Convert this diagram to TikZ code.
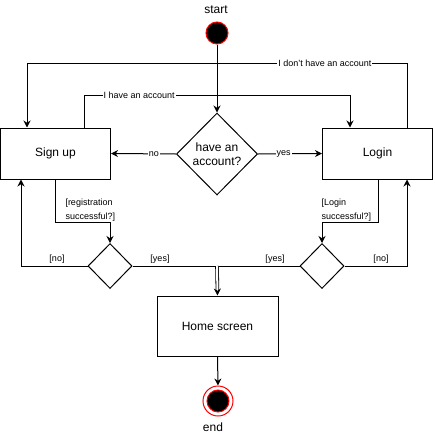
\documentclass[tikz,border=0pt]{standalone}
\usepackage{fontspec}
\setmainfont{Liberation Sans}
\usetikzlibrary{shapes.geometric,arrows.meta}
\begin{document}
\begin{tikzpicture}[x=1pt,y=-1pt,line width=1pt,
  >={Stealth[length=7pt,width=7pt]},
  box/.style={draw,rectangle,inner sep=0pt,font=\fontsize{12}{14}\selectfont},
  dec/.style={draw,diamond,inner sep=0pt},
  elabel/.style={font=\fontsize{9}{11}\selectfont,fill=white,inner sep=1pt},
  glabel/.style={font=\fontsize{9}{14}\selectfont,align=left,inner sep=0pt,anchor=west},
  plabel/.style={font=\fontsize{12}{14}\selectfont,inner sep=0pt}]
\useasboundingbox (0,0) rectangle (434,442);
% nodes
\node[circle,draw=red,fill=black,minimum size=22pt,inner sep=0pt] (start) at (217,33) {};
\node[plabel] (startlbl) at (216,10) {start};
\node[dec,minimum width=81pt,minimum height=82pt,align=center,font=\fontsize{12}{14}\selectfont] (d0) at (217,154) {have an\\account?};
\node[box,minimum width=110pt,minimum height=51pt] (signup) at (55.5,153.5) {Sign up};
\node[box,minimum width=110pt,minimum height=51pt] (login) at (377.5,153.5) {Login};
\node[dec,minimum width=44pt,minimum height=45pt] (dl) at (110,266) {};
\node[dec,minimum width=44pt,minimum height=45pt] (dr) at (322,266) {};
\node[box,minimum width=121pt,minimum height=60pt] (home) at (217.5,326) {Home screen};
\node[circle,draw=red,fill=white,minimum size=30pt,inner sep=0pt] (end) at (218,401) {};
\node[circle,draw=red,fill=black,minimum size=22pt,inner sep=0pt] (endin) at (218,401) {};
\node[plabel] (endlbl) at (213,427) {end};
% coordinates
\coordinate (a1) at (407,63);
\coordinate (a2) at (27,63);
\coordinate (b1) at (84,95);
\coordinate (b2) at (350,95);
\coordinate (c1) at (55,222);
\coordinate (c2) at (378,222);
\coordinate (e1) at (21,266);
\coordinate (e2) at (407,266);
\coordinate (j) at (217,266);
% connectors
\draw[->] (start) -- (d0.north);
\draw[->] (d0.west) -- node[elabel,pos=0.34] {no} (signup.east);
\draw[->] (d0.east) -- node[elabel,pos=0.4] {yes} (login.west);
\draw[->] (login.north -| a1) -- (a1) -- node[elabel,pos=0.216] {I don't have an account} (a2) -- (signup.north -| a2);
\draw[->] (signup.north -| b1) -- (b1) -- node[elabel,pos=0.207] {I have an account} (b2) -- (login.north -| b2);
\draw[->] (signup.south -| c1) -- (c1) -| (dl.north);
\draw[->] (login.south -| c2) -- (c2) -| (dr.north);
\node[glabel] (lreg) at (65,210) {[registration\\successful?]};
\node[glabel] (llog) at (321,210) {[Login\\successful?]};
\draw[->] (dl.west) -- (e1) -- (signup.south -| e1);
\draw[->] (dr.east) -- (e2) -- (login.south -| e2);
\draw (dl.east) -- (j);
\draw (dr.west) -- (j);
\node[font=\fontsize{9}{11}\selectfont,inner sep=0pt] (lno1) at (57,259) {[no]};
\node[font=\fontsize{9}{11}\selectfont,inner sep=0pt] (lyes1) at (160,259) {[yes]};
\node[font=\fontsize{9}{11}\selectfont,inner sep=0pt] (lyes2) at (275,259) {[yes]};
\node[font=\fontsize{9}{11}\selectfont,inner sep=0pt] (lno2) at (381,259) {[no]};
\draw[double,double distance=2pt,line width=0.8pt,-{Stealth[length=7pt,width=7pt]}] (j) -- (home.north);
\draw[->] (home.south) -- (end.north);
\end{tikzpicture}
\end{document}
